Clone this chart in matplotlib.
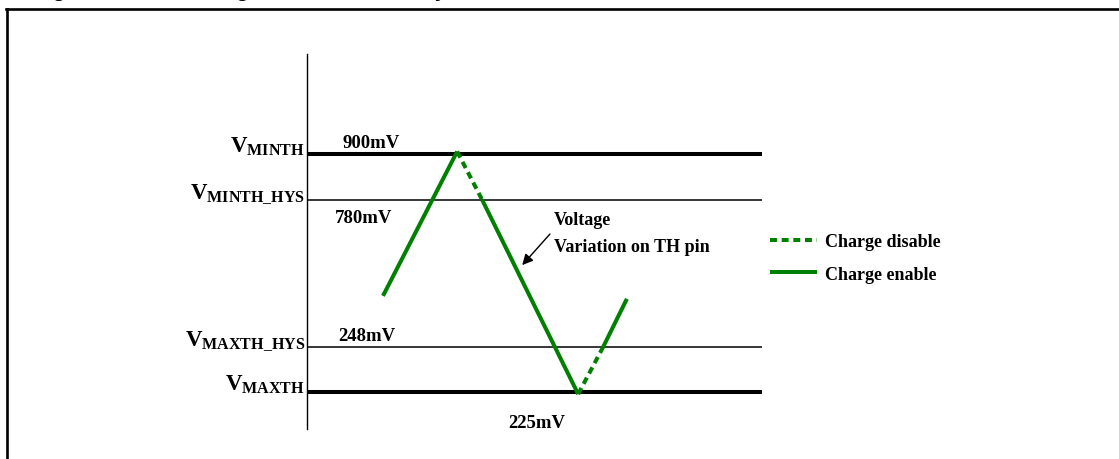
import matplotlib
matplotlib.use("Agg")
import matplotlib.pyplot as plt
from matplotlib.lines import Line2D

plt.rcParams['mathtext.fontset'] = 'custom'
plt.rcParams['mathtext.rm'] = 'Liberation Serif'
plt.rcParams['mathtext.bf'] = 'Liberation Serif:bold'
plt.rcParams['lines.scale_dashes'] = False

# threshold levels (schematic height, 0..100 on the drawing axis)
level_names = ['MINTH', 'MINTH\\_HYS', 'MAXTH\\_HYS', 'MAXTH']
level_mv = ['900mV', '780mV', '248mV', '225mV']
level_y = [73.3, 61.1, 21.9, 9.9]

# voltage on TH pin (time, level) and charge state of each segment
wave_t = [16.7, 33.0, 38.5, 59.6, 65.1, 70.3]
wave_v = [35.5, 74.0, 61.1, 9.3, 21.9, 34.7]
seg_state = ['enable', 'disable', 'enable', 'disable', 'enable']

legend_labels = ['Charge disable', 'Charge enable']

W, H = 1119, 460
green = '#008000'
serif = 'Liberation Serif'
dash = (5.0, 3.4)

fig = plt.figure(figsize=(W / 100, H / 100), dpi=100)

# frame of the figure box + cut title
fig.add_artist(Line2D([6 / W, 1], [1 - 9.5 / H] * 2, color='black', lw=1.9))
fig.add_artist(Line2D([7 / W] * 2, [0, 1 - 9.5 / H], color='black', lw=1.9))
fig.text(34 / W, 1 + 3.0 / H, 'Figure 24. NTC voltage thresholds and hysteresis',
         family='Liberation Sans', weight='bold', fontsize=15, va='baseline')

ax = fig.add_axes([307 / W, 30 / H, 455 / W, 375 / H])
ax.set_xlim(0, 100)
ax.set_ylim(0, 100)
ax.set_xticks([])
ax.set_yticks([])
for s in ['top', 'right', 'bottom']:
    ax.spines[s].set_visible(False)
ax.spines['left'].set_linewidth(1.0)
ax.patch.set_alpha(0)

# threshold lines
widths = [2.9, 1.1, 1.1, 2.9]
for y, lw in zip(level_y, widths):
    ax.hlines(y, 0, 100, color='black', lw=lw, zorder=2)

# left labels
for name, y in zip(level_names, level_y):
    ax.annotate(r'$\mathbf{V}_{\mathbf{%s}}$' % name, xy=(0, y), xytext=(-2, 3),
                textcoords='offset pixels', ha='right', va='baseline',
                fontsize=16.5, annotation_clip=False)

# value labels
value_pos = [(7.7, 75.2), (6.2, 55.2), (6.8, 23.7), (44.2, 0.5)]
for txt, (x, y) in zip(level_mv, value_pos):
    ax.text(x, y, txt, family=serif, weight='bold', fontsize=13.5, va='baseline',
            clip_on=False)

# waveform
for i, st in enumerate(seg_state):
    ls = (0, dash) if st == 'disable' else '-'
    ax.plot(wave_t[i:i + 2], wave_v[i:i + 2], color=green, lw=2.9, linestyle=ls,
            solid_capstyle='butt', dash_capstyle='butt', zorder=3)

# annotation
ax.annotate('', xy=(47.3, 43.7), xytext=(53.4, 52.0),
            arrowprops=dict(arrowstyle='-|>', color='black', lw=1.0,
                            mutation_scale=16, shrinkA=0, shrinkB=0))
ax.text(54.2, 54.7, 'Voltage', family=serif, weight='bold', fontsize=13,
        va='baseline')
ax.text(54.2, 47.5, 'Variation on TH pin', family=serif, weight='bold',
        fontsize=13, va='baseline')

# legend
handles = [Line2D([], [], color=green, lw=2.9, linestyle=(0, dash), dash_capstyle='butt'),
           Line2D([], [], color=green, lw=2.9, solid_capstyle='butt')]
fig.legend(handles, legend_labels, loc='center left',
           bbox_to_anchor=(770 / W, 1 - 259 / H), frameon=False,
           prop={'family': serif, 'weight': 'bold', 'size': 13},
           handlelength=2.6, handletextpad=0.45, labelspacing=0.85,
           borderpad=0, borderaxespad=0)

fig.savefig('out.png', dpi=100)
